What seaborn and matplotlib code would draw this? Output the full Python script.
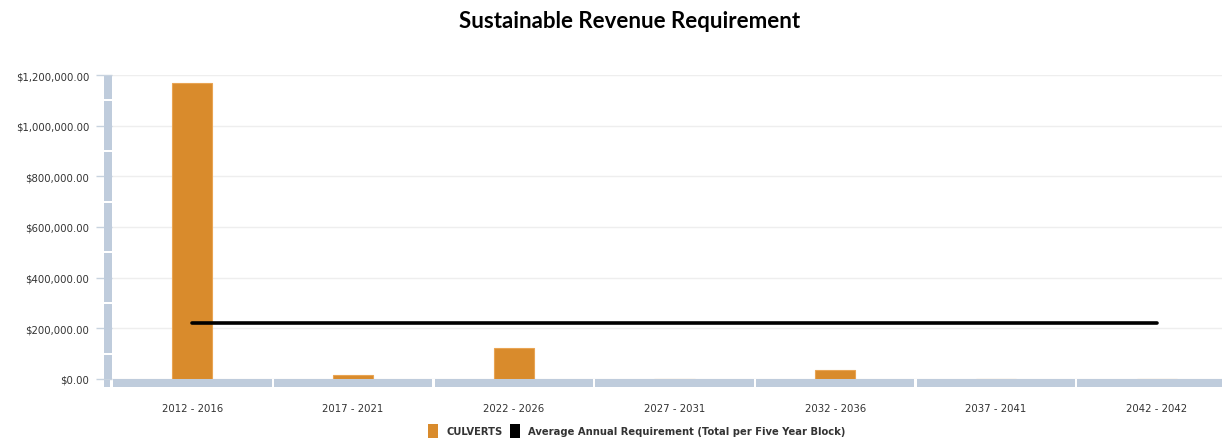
import numpy as np
import pandas as pd
import seaborn as sns
import matplotlib
matplotlib.use("Agg")
import matplotlib.pyplot as plt
from matplotlib.patches import Rectangle, Patch
from matplotlib.ticker import FuncFormatter
from matplotlib.transforms import blended_transform_factory

# Five-year blocks and the revenue figures
periods = ["2012 - 2016", "2017 - 2021", "2022 - 2026", "2027 - 2031",
           "2032 - 2036", "2037 - 2041", "2042 - 2042"]
culverts = [1168000, 17000, 121000, 0, 35000, 0, 0]
avg_requirement = [221000, 221000, 221000, 221000, 221000, 221000, 221000]
y_ticks = [0, 200000, 400000, 600000, 800000, 1000000, 1200000]
y_band_breaks = [0, 100000, 300000, 500000, 700000, 900000, 1100000, 1200000]

ORANGE = "#D98B2C"
BAND = "#BFCCDC"
TEXT = "#333333"

sns.set_theme(style="white")
plt.rcParams["font.family"] = ["DejaVu Sans"]

W, H = 1222, 439
fig = plt.figure(figsize=(W / 100, H / 100), dpi=100)
ax_left, ax_right, ax_top, ax_bottom = 112, 1237, 76, 380
ax = fig.add_axes([ax_left / W, (H - ax_bottom) / H,
                   (ax_right - ax_left) / W, (ax_bottom - ax_top) / H])

df = pd.DataFrame({"period": periods, "value": culverts})
sns.barplot(data=df, x="period", y="value", color=ORANGE, saturation=1,
            width=0.25, edgecolor="#E9A453", linewidth=0.8, ax=ax, zorder=3)

sns.lineplot(x=np.arange(len(periods)), y=avg_requirement, color="black",
             linewidth=2.6, ax=ax, zorder=4, solid_capstyle="round")

n = len(periods)
px_per_cat = (ax_right - ax_left) / n
ax.set_xlim(-0.5, n - 0.5)
ax.set_ylim(0, 1200000)
ax.set_yticks(y_ticks)
ax.yaxis.set_major_formatter(FuncFormatter(lambda v, p: f"${v:,.2f}"))
ax.grid(axis="y", color="#EEEEEE", linewidth=1, zorder=0)
ax.grid(axis="x", visible=False)
for s in ax.spines.values():
    s.set_visible(False)

ax.set_xlabel("")
ax.set_ylabel("")
ax.tick_params(axis="x", length=0, pad=17, labelsize=7.3, labelcolor=TEXT)
ax.tick_params(axis="y", length=11.5, width=1, color="#C8D3DF", pad=5,
               labelsize=7.3, labelcolor=TEXT, left=True)

# Axis bands: horizontal strip split per category, vertical strip split at breaks
band_h = 8 / (ax_bottom - ax_top)
band_w = 8 / (ax_right - ax_left)
gap_x = 1.2 / px_per_cat
tx = blended_transform_factory(ax.transData, ax.transAxes)
for i in range(n):
    x0 = i - 0.5 + gap_x
    x1 = i + 0.5 - gap_x
    ax.add_patch(Rectangle((x0, -band_h), x1 - x0, band_h, transform=tx,
                           facecolor=BAND, edgecolor="none", clip_on=False, zorder=5))
ty = blended_transform_factory(ax.transAxes, ax.transData)
gap_y = 1.0 * 1200000 / (ax_bottom - ax_top)
for lo, hi in zip(y_band_breaks[:-1], y_band_breaks[1:]):
    y0 = lo + (gap_y if lo > 0 else 0)
    y1 = hi - gap_y
    ax.add_patch(Rectangle((-band_w, y0), band_w, y1 - y0, transform=ty,
                           facecolor=BAND, edgecolor="none", clip_on=False, zorder=5))
ax.add_patch(Rectangle((-band_w, -band_h), band_w * 0.8, band_h * 0.9,
                       transform=ax.transAxes,
                       facecolor=BAND, edgecolor="none", clip_on=False, zorder=5))

fig.text(630 / W, 1 - 22 / H, "Sustainable Revenue Requirement",
         ha="center", va="center", fontsize=16, fontweight="bold",
         family=["Lato", "DejaVu Sans"], color="black")

handles = [Patch(facecolor=ORANGE, edgecolor="none"),
           Patch(facecolor="black", edgecolor="none")]
labels = ["CULVERTS", "Average Annual Requirement (Total per Five Year Block)"]
leg = fig.legend(handles, labels, loc="center", bbox_to_anchor=(637 / W, 1 - 432 / H),
                 ncol=2, frameon=False, handlelength=1.0, handleheight=1.8,
                 handletextpad=0.8, columnspacing=0.8,
                 prop={"size": 7.2, "weight": "bold"})
for t in leg.get_texts():
    t.set_color(TEXT)

fig.savefig("out.png", dpi=100)
